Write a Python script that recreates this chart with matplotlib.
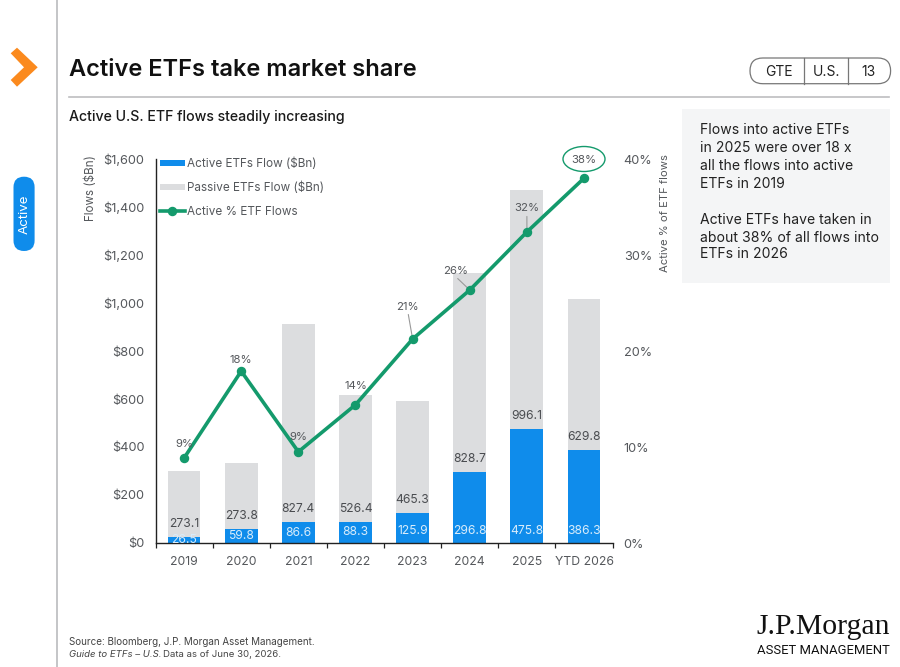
import matplotlib
matplotlib.use('Agg')
import numpy as np
import matplotlib.pyplot as plt
from matplotlib.patches import FancyBboxPatch, Polygon, Rectangle, Ellipse

plt.rcParams['font.family'] = ['Inter', 'DejaVu Sans']

years = ['2019', '2020', '2021', '2022', '2023', '2024', '2025', 'YTD 2026']
active_flow = [26.5, 59.8, 86.6, 88.3, 125.9, 296.8, 475.8, 386.3]
passive_flow = [273.1, 273.8, 827.4, 526.4, 465.3, 828.7, 996.1, 629.8]
active_pct = [8.85, 17.9, 9.5, 14.4, 21.25, 26.35, 32.4, 38.0]
pct_labels = ['9%', '18%', '9%', '14%', '21%', '26%', '32%', '38%']
flow_ticks = [0, 200, 400, 600, 800, 1000, 1200, 1400, 1600]
pct_ticks = [0, 10, 20, 30, 40]

BLUE = '#0f8ceb'
GREY = '#dcdddf'
GREEN = '#149a6c'
TEXT = '#55585c'
W, H = 900, 667

fig = plt.figure(figsize=(W / 100, H / 100), dpi=100, facecolor='white')

# main axes, placed to the pixel
left, right, top, bottom = 155.5, 612.6, 159, 543
ax = fig.add_axes([left / W, 1 - bottom / H, (right - left) / W, (bottom - top) / H])
x = np.arange(len(years))
ax.bar(x, active_flow, width=0.575, color=BLUE, label='Active ETFs Flow ($Bn)', zorder=2)
ax.bar(x, passive_flow, width=0.575, bottom=active_flow, color=GREY, label='Passive ETFs Flow ($Bn)', zorder=2)
ax.set_xlim(-0.5, len(years) - 0.5)
ax.set_ylim(0, 1600)
ax.set_yticks(flow_ticks, [f'${v:,}' for v in flow_ticks])
ax.set_xticks(x, years)
ax.set_xticks(np.arange(len(years) + 1) - 0.5, minor=True)
ax.tick_params(axis='y', length=0, pad=8, labelsize=9.2, labelcolor=TEXT)
ax.tick_params(axis='x', which='major', length=0, pad=9.5, labelsize=8.8, labelcolor=TEXT)
ax.tick_params(axis='x', which='minor', length=3.5, width=0.9, color='#222222')
for s in ['top', 'right']:
    ax.spines[s].set_visible(False)
for s in ['left', 'bottom']:
    ax.spines[s].set_linewidth(1.0)
    ax.spines[s].set_color('#222222')

# value labels inside the stacks
px_per_unit = (bottom - top) / 1600
for i, (a, p) in enumerate(zip(active_flow, passive_flow)):
    off = min(12.5, a * px_per_unit * 0.5)
    ax.annotate(f'{a:.1f}', (i, 0), xytext=(0, off * 0.72), textcoords='offset points',
                ha='center', va='center', fontsize=8.7, color='#d8ecfb', zorder=3,
                annotation_clip=False, clip_on=True)
    ax.annotate(f'{p:.1f}', (i, a), xytext=(0, 13 * 0.72), textcoords='offset points',
                ha='center', va='center', fontsize=8.7, color='#4a4c50', zorder=3)

# percent line
ax2 = ax.twinx()
ax2.plot(x, active_pct, color=GREEN, lw=2.6, marker='o', ms=5.8, label='Active % ETF Flows', zorder=4)
ax2.set_ylim(0, 40)
ax2.set_yticks(pct_ticks, [f'{v}%' for v in pct_ticks])
ax2.tick_params(axis='y', length=0, pad=8, labelsize=9.2, labelcolor=TEXT)
for s in ax2.spines.values():
    s.set_visible(False)

# offsets of the percent labels from their points, in pixels
label_off = [(0, 14.5), (0, 11.5), (0, 14.5), (0, 18.5), (-5, 32.5), (-14, 19.5), (0, 23.5), (0, 18)]
leaders = [4, 5, 6]
for i, (v, t, (dx, dy)) in enumerate(zip(active_pct, pct_labels, label_off)):
    ax2.annotate(t, (i, v), xytext=(dx * 0.72, dy * 0.72), textcoords='offset points',
                 ha='center', va='center', fontsize=8.2, color=TEXT, zorder=5)
    if i in leaders:
        ax2.annotate('', (i, v), xytext=(dx * 0.62, (dy - 8) * 0.72), textcoords='offset points',
                     arrowprops=dict(arrowstyle='-', color='#999999', lw=0.8, shrinkA=0, shrinkB=0), zorder=3)

# legend
h1, l1 = ax.get_legend_handles_labels()
h2, l2 = ax2.get_legend_handles_labels()
leg = ax2.legend(h1 + h2, l1 + l2, loc='upper left', bbox_to_anchor=(0.002, 1.012), frameon=False,
                 fontsize=8.45, labelcolor=TEXT, handlelength=2.1, handleheight=0.45,
                 handletextpad=0.2, labelspacing=0.98, borderpad=0, borderaxespad=0.3)

# everything around the chart, in reference pixels
ov = fig.add_axes([0, 0, 1, 1], zorder=10)
ov.set_xlim(0, W)
ov.set_ylim(H, 0)
ov.axis('off')
ov.patch.set_alpha(0)

ov.plot([57, 57], [0, H], color='#c4c5c7', lw=1.4)
ov.add_patch(Polygon([(10.7, 53.3), (17, 47.7), (37.7, 67.3), (17, 86.7), (10.7, 80), (24, 67.3)],
                     closed=True, color='#fb8a1e', lw=0))
ov.add_patch(FancyBboxPatch((13.5 + 10.5, 176.7 + 10.5), 0.1, 74.3 - 21, boxstyle='round,pad=10.5,rounding_size=10.5',
                            fc=BLUE, ec='none', mutation_aspect=1))
ov.text(24.5, 214, 'Active', rotation=90, ha='center', va='center', color='white', fontsize=9.6)

ov.text(69, 70.5, 'Active ETFs take market share', fontsize=17, fontweight='semibold', color='#111111', va='center')
ov.plot([69, 889], [97, 97], color='#bdbec0', lw=1.2)
ov.text(69, 117, 'Active U.S. ETF flows steadily increasing', fontsize=10.2, fontweight='medium', color='#1a1a1a', va='center')

# page tag
ov.add_patch(FancyBboxPatch((762.8, 70.8), 115, 0.1, boxstyle='round,pad=12.8,rounding_size=12.8',
                            fc='white', ec='#777777', lw=0.9))
ov.plot([804, 804], [58, 83.6], color='#777777', lw=0.9)
ov.plot([848, 848], [58, 83.6], color='#777777', lw=0.9)
for tx, t in [(779, 'GTE'), (826, 'U.S.'), (868, '13')]:
    ov.text(tx, 72.5, t, ha='center', va='center', fontsize=10, color='#222222')

# call-out
ov.add_patch(Rectangle((682, 109), 207.5, 174, fc='#f4f5f6', ec='none'))
call_lines = [('Flows into active ETFs', 130), ('in 2025 were over 18 x', 148),
              ('all the flows into active', 166), ('ETFs in 2019', 184),
              ('Active ETFs have taken in', 220), ('about 38% of all flows into', 238),
              ('ETFs in 2026', 254)]
for t, y in call_lines:
    ov.text(700, y, t, fontsize=10.08, color='#222222', va='center')

ov.text(90.5, 188.5, 'Flows ($Bn)', rotation=90, ha='center', va='center', fontsize=8.4, color=TEXT)
ov.text(665.5, 213, 'Active % of ETF flows', rotation=90, ha='center', va='center', fontsize=8.1, color=TEXT)

ov.add_patch(Ellipse((584, 159), 42, 25, fc='none', ec=GREEN, lw=1))

# footer
ov.text(69, 642, 'Source: Bloomberg, J.P. Morgan Asset Management.', fontsize=7.05, color='#444444', va='center')
ov.text(69, 654.5, 'Guide to ETFs – U.S.', fontsize=6.9, style='italic', color='#444444', va='center')
ov.text(163, 654.5, 'Data as of June 30, 2026.', fontsize=6.9, color='#444444', va='center')
ov.text(890, 627, 'J.P.Morgan', fontsize=21.3, family='Liberation Serif', color='#111111', ha='right', va='center')
ov.text(890, 651, 'ASSET MANAGEMENT', fontsize=9.4, family='Roboto', color='#111111', ha='right', va='center')

fig.savefig('out.png', dpi=100)
